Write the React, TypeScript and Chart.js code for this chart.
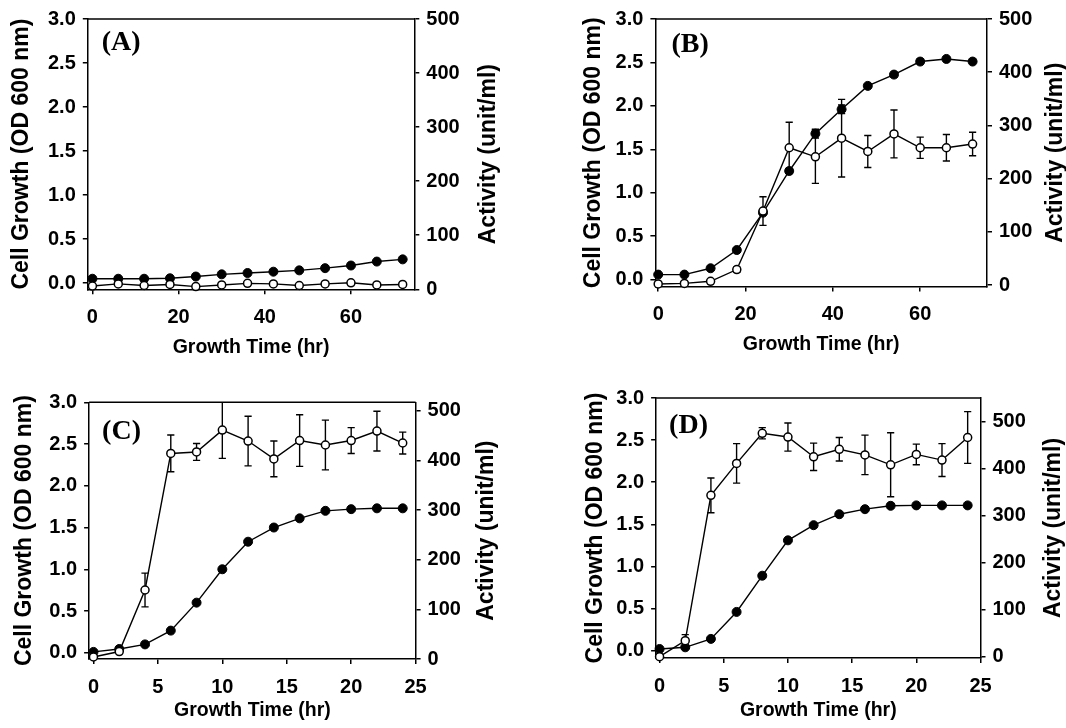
import React, { useEffect, useRef } from 'react';
import { Chart, registerables } from 'chart.js';

Chart.register(...registerables);

// ---------- data ----------
const timeAB = [0, 6, 12, 18, 24, 30, 36, 42, 48, 54, 60, 66, 72];
const timeCD = [0, 2, 4, 6, 8, 10, 12, 14, 16, 18, 20, 22, 24];

const xTicksAB = [0, 20, 40, 60];
const xTicksCD = [0, 5, 10, 15, 20, 25];
const growthTicks = [0, 0.5, 1.0, 1.5, 2.0, 2.5, 3.0];
const activityTicks = [0, 100, 200, 300, 400, 500];

const growthTitle = 'Cell Growth (OD 600 nm)';
const activityTitle = 'Activity (unit/ml)';
const timeTitle = 'Growth Time (hr)';
const panelLabels = ['(A)', '(B)', '(C)', '(D)'];

// Panel A
const growthA = [0.05, 0.05, 0.05, 0.055, 0.075, 0.1, 0.115, 0.13, 0.145, 0.17, 0.2, 0.245, 0.27];
const growthErrA = [0, 0, 0, 0, 0, 0, 0, 0, 0, 0, 0, 0, 0];
const activityA = [6, 10, 7, 9, 5, 8, 11, 10, 7, 10, 12, 8, 9];
const activityErrA = [0, 0, 0, 3, 0, 0, 3, 0, 0, 0, 3, 0, 0];

// Panel B
const growthB = [0.057, 0.057, 0.13, 0.34, 0.77, 1.25, 1.68, 1.96, 2.23, 2.36, 2.51, 2.54, 2.51];
const growthErrB = [0, 0, 0, 0, 0, 0.03, 0.05, 0.05, 0.02, 0.03, 0.03, 0, 0];
const activityB = [2, 3, 7, 29, 139, 258, 241, 276, 251, 284, 258, 258, 265];
const activityErrB = [0, 0, 0, 5, 27, 48, 50, 73, 30, 45, 20, 25, 22];

// Panel C
const growthC = [0.01, 0.045, 0.1, 0.265, 0.6, 1.0, 1.33, 1.5, 1.61, 1.7, 1.72, 1.73, 1.73];
const growthErrC = [0, 0, 0, 0, 0, 0, 0, 0, 0, 0, 0, 0, 0];
const activityC = [4, 15, 139, 414, 417, 461, 439, 403, 440, 431, 440, 459, 435];
const activityErrC = [0, 0, 34, 37, 17, 57, 50, 36, 52, 50, 26, 40, 22];

// Panel D
const growthD = [0.02, 0.04, 0.14, 0.46, 0.89, 1.31, 1.49, 1.62, 1.68, 1.72, 1.725, 1.725, 1.725];
const growthErrD = [0, 0, 0, 0, 0, 0, 0, 0, 0, 0, 0, 0, 0];
const activityD = [0, 34, 343, 411, 475, 467, 425, 441, 429, 408, 430, 418, 466];
const activityErrD = [0, 13, 37, 42, 12, 30, 29, 25, 42, 68, 22, 35, 55];

// ---------- layout ----------
const W = 533;
const H = 364;
const FAMILY = '"Liberation Sans", Arial, sans-serif';
const TICK_SIZE = 20;
const VTITLE_SIZE = 23;

type Panel = {
  label: string;
  left: number;
  top: number;
  time: number[];
  xTicks: number[];
  growth: number[];
  growthErr: number[];
  activity: number[];
  activityErr: number[];
  L: number; R: number; T: number; B: number;
  xMin: number; xMax: number;
  gMin: number; gMax: number;
  aMin: number; aMax: number;
  leftTitleX: number;
  rightTitleOff: number;
  xTitleY: number;
  labelDx: number;
  labelDy: number;
};

const panels: Panel[] = [
  {
    label: panelLabels[0], left: 0, top: 0, time: timeAB, xTicks: xTicksAB,
    growth: growthA, growthErr: growthErrA, activity: activityA, activityErr: activityErrA,
    L: 87.8, R: 414.3, T: 18.5, B: 289.3,
    xMin: -1.07, xMax: 74.7, gMin: -0.07, gMax: 3.0, aMin: 0, aMax: 500,
    leftTitleX: 22, rightTitleOff: 74.7, xTitleY: 347.5, labelDx: 14, labelDy: 24,
  },
  {
    label: panelLabels[1], left: 533, top: 0, time: timeAB, xTicks: xTicksAB,
    growth: growthB, growthErr: growthErrB, activity: activityB, activityErr: activityErrB,
    L: 122.4, R: 454, T: 15, B: 286.5,
    xMin: -0.64, xMax: 75.3, gMin: -0.08, gMax: 3.0, aMin: -2.8, aMax: 500,
    leftTitleX: 60.4, rightTitleOff: 69, xTitleY: 345, labelDx: 16, labelDy: 26,
  },
  {
    label: panelLabels[2], left: 0, top: 364, time: timeCD, xTicks: xTicksCD,
    growth: growthC, growthErr: growthErrC, activity: activityC, activityErr: activityErrC,
    L: 89.1, R: 415.6, T: 38.3, B: 295,
    xMin: -0.34, xMax: 25, gMin: -0.075, gMax: 3.0, aMin: 0, aMax: 517,
    leftTitleX: 24.5, rightTitleOff: 71.4, xTitleY: 347, labelDx: 13, labelDy: 29.5,
  },
  {
    label: panelLabels[3], left: 533, top: 364, time: timeCD, xTicks: xTicksCD,
    growth: growthD, growthErr: growthErrD, activity: activityD, activityErr: activityErrD,
    L: 123.1, R: 447.5, T: 34, B: 294,
    xMin: -0.27, xMax: 25, gMin: -0.087, gMax: 3.0, aMin: -2.8, aMax: 550,
    leftTitleX: 63, rightTitleOff: 73.5, xTitleY: 346.5, labelDx: 13, labelDy: 28,
  },
];

const decorPlugin = {
  id: 'decor',
  beforeDatasetsDraw(chart: any) {
    const ctx = chart.ctx;
    const ca = chart.chartArea;
    ctx.save();
    ctx.beginPath();
    ctx.rect(ca.left, ca.top, ca.right - ca.left, ca.bottom - ca.top);
    ctx.clip();
    ctx.strokeStyle = '#000';
    ctx.lineWidth = 1.4;
    const cap = 3.6;
    chart.data.datasets.forEach((ds: any, di: number) => {
      const errs: number[] | undefined = ds.errors;
      if (!errs) return;
      const meta = chart.getDatasetMeta(di);
      const xs = chart.scales[meta.xAxisID];
      const ys = chart.scales[meta.yAxisID];
      ds.data.forEach((pt: any, i: number) => {
        const e = errs[i];
        if (!e) return;
        const x = xs.getPixelForValue(pt.x);
        const y1 = ys.getPixelForValue(pt.y + e);
        const y2 = ys.getPixelForValue(pt.y - e);
        ctx.beginPath();
        ctx.moveTo(x, y1);
        ctx.lineTo(x, y2);
        ctx.moveTo(x - cap, y1);
        ctx.lineTo(x + cap, y1);
        ctx.moveTo(x - cap, y2);
        ctx.lineTo(x + cap, y2);
        ctx.stroke();
      });
    });
    ctx.restore();
  },
  afterDraw(chart: any, _args: any, opts: any) {
    const ctx = chart.ctx;
    const ca = chart.chartArea;
    ctx.save();
    // top frame line
    ctx.strokeStyle = '#000';
    ctx.lineWidth = 1.5;
    ctx.beginPath();
    ctx.moveTo(ca.left, ca.top);
    ctx.lineTo(ca.right, ca.top);
    ctx.stroke();
    // right axis title (reads bottom to top)
    ctx.fillStyle = '#000';
    ctx.font = `bold ${VTITLE_SIZE}px ${FAMILY}`;
    ctx.textAlign = 'center';
    ctx.textBaseline = 'middle';
    ctx.translate(ca.right + opts.rightTitleOff, (ca.top + ca.bottom) / 2);
    ctx.rotate(-Math.PI / 2);
    ctx.fillText(opts.rightTitle, 0, 0);
    ctx.restore();
    // panel label
    ctx.save();
    ctx.fillStyle = '#000';
    ctx.font = 'bold 28px "Liberation Serif", "Times New Roman", serif';
    ctx.textAlign = 'left';
    ctx.textBaseline = 'middle';
    ctx.fillText(opts.label, ca.left + opts.labelDx, ca.top + opts.labelDy);
    ctx.restore();
  },
};

function PanelChart({ p }: { p: Panel }) {
  const ref = useRef<HTMLCanvasElement | null>(null);
  useEffect(() => {
    if (!ref.current) return;
    const tickFont = { family: FAMILY, weight: 'bold' as const, size: TICK_SIZE };
    const gridOpts = {
      drawOnChartArea: false,
      drawTicks: true,
      tickLength: 5,
      color: '#000',
      lineWidth: 1.5,
    };
    const borderOpts = { display: true, color: '#000', width: 1.5 };
    const vHalf = (VTITLE_SIZE * 1.2) / 2;
    const chart = new Chart(ref.current, {
      type: 'line',
      data: {
        datasets: [
          {
            label: 'Activity',
            data: p.time.map((t, i) => ({ x: t, y: p.activity[i] })),
            errors: p.activityErr,
            xAxisID: 'x',
            yAxisID: 'yA',
            borderColor: '#000',
            borderWidth: 1.4,
            pointRadius: 4,
            pointBackgroundColor: '#fff',
            pointBorderColor: '#000',
            pointBorderWidth: 1.5,
            fill: false,
            tension: 0,
            clip: false,
          } as any,
          {
            label: 'Growth',
            data: p.time.map((t, i) => ({ x: t, y: p.growth[i] })),
            errors: p.growthErr,
            xAxisID: 'x',
            yAxisID: 'yG',
            borderColor: '#000',
            borderWidth: 1.4,
            pointRadius: 4.5,
            pointBackgroundColor: '#000',
            pointBorderColor: '#000',
            pointBorderWidth: 1,
            fill: false,
            tension: 0,
            clip: false,
          } as any,
        ],
      },
      options: {
        animation: false,
        responsive: false,
        events: [],
        layout: { padding: { top: p.T, left: 0, right: 0, bottom: 0 } },
        plugins: {
          legend: { display: false },
          tooltip: { enabled: false },
          decor: {
            label: p.label,
            labelDx: p.labelDx,
            labelDy: p.labelDy,
            rightTitle: activityTitle,
            rightTitleOff: p.rightTitleOff,
          },
        } as any,
        scales: {
          x: {
            type: 'linear',
            position: 'bottom',
            min: p.xMin,
            max: p.xMax,
            afterBuildTicks: (s: any) => {
              s.ticks = p.xTicks.map((v) => ({ value: v }));
            },
            afterFit: (s: any) => {
              s.height = H - p.B;
            },
            grid: gridOpts,
            border: borderOpts,
            ticks: {
              color: '#000',
              font: tickFont,
              padding: 11,
              maxRotation: 0,
              autoSkip: false,
              callback: (v: any) => String(v),
            },
            title: {
              display: true,
              text: timeTitle,
              color: '#000',
              font: { family: FAMILY, weight: 'bold', size: 19.5 },
              padding: { top: 0, bottom: Math.max(0, H - p.xTitleY - 11.7) },
            },
          },
          yG: {
            type: 'linear',
            position: 'left',
            min: p.gMin,
            max: p.gMax,
            afterBuildTicks: (s: any) => {
              s.ticks = growthTicks.map((v) => ({ value: v }));
            },
            afterFit: (s: any) => {
              s.width = p.L;
            },
            grid: gridOpts,
            border: borderOpts,
            ticks: {
              color: '#000',
              font: tickFont,
              padding: 7,
              autoSkip: false,
              callback: (v: any) => Number(v).toFixed(1),
            },
            title: {
              display: true,
              text: growthTitle,
              color: '#000',
              font: { family: FAMILY, weight: 'bold', size: VTITLE_SIZE },
              padding: { top: Math.max(0, p.leftTitleX - vHalf), bottom: 0 },
            },
          },
          yA: {
            type: 'linear',
            position: 'right',
            min: p.aMin,
            max: p.aMax,
            afterBuildTicks: (s: any) => {
              s.ticks = activityTicks.map((v) => ({ value: v }));
            },
            afterFit: (s: any) => {
              s.width = W - p.R;
            },
            grid: gridOpts,
            border: borderOpts,
            ticks: {
              color: '#000',
              font: tickFont,
              padding: 7,
              autoSkip: false,
              callback: (v: any) => String(v),
            },
            title: { display: false },
          },
        } as any,
      },
      plugins: [decorPlugin as any],
    } as any);
    return () => chart.destroy();
  }, [p]);
  return (
    <canvas
      ref={ref}
      width={W}
      height={H}
      style={{ position: 'absolute', left: p.left, top: p.top, width: W, height: H }}
    />
  );
}

export default function App() {
  return (
    <div
      style={{
        position: 'absolute',
        left: 0,
        top: 0,
        width: 1066,
        height: 728,
        background: '#fff',
        overflow: 'hidden',
      }}
    >
      {panels.map((p) => (
        <PanelChart key={p.label} p={p} />
      ))}
    </div>
  );
}
